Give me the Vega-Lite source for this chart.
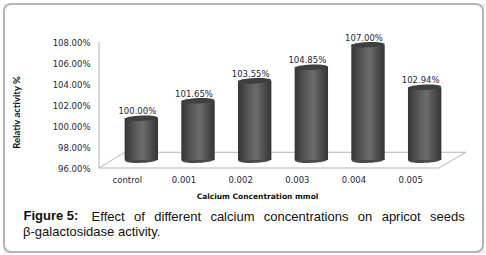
{
"$schema":"https://vega.github.io/schema/vega-lite/v6.json",
"width":479,"height":248,
"autosize":{"type":"none"},
"padding":{"left":4,"top":4,"right":3,"bottom":3},
"background":"white",
"title":{"text":["\u200b\u00a0\u00a0\u00a0\u00a0\u00a0\u00a0\u00a0\u00a0\u00a0\u00a0\u00a0\u00a0\u00a0\u00a0\u00a0\u00a0\u00a0\u00a0\u00a0Effect\u00a0\u00a0\u200a\u200aof\u00a0\u00a0\u200a\u200adifferent\u00a0\u00a0\u200a\u200acalcium\u00a0\u00a0\u200a\u200aconcentrations\u00a0\u00a0\u200a\u200aon\u00a0\u00a0\u200a\u200aapricot\u00a0\u00a0\u200a\u200aseeds","β-galactosidase activity."],"orient":"bottom","anchor":"start","frame":"group","offset":-42,"dx":19,"font":"Liberation Sans","fontSize":13,"fontWeight":"normal","color":"#111111","lineHeight":15},
"datasets":{
"bars":[
{"dose":"control","activity":1.0},
{"dose":"0.001","activity":1.0165},
{"dose":"0.002","activity":1.0355},
{"dose":"0.003","activity":1.0485},
{"dose":"0.004","activity":1.07},
{"dose":"0.005","activity":1.0294}],
"floor":[
{"fx":0,"fy":1.08},{"fx":0,"fy":0.96},{"fx":7.6,"fy":0.975},{"fx":107.9,"fy":0.975},{"fx":100,"fy":0.96},{"fx":0,"fy":0.96}],
"frame":[{"fx":-27.94,"fx2":112.94,"fy":1.11619,"fy2":0.88}]
},
"layer":[
{"layer":[
{"data":{"name":"frame"},"mark":{"type":"rect","fillOpacity":0,"stroke":"#b4b4b4","strokeWidth":2,"strokeOpacity":1,"cornerRadius":7,"clip":false},
"encoding":{"x":{"field":"fx","type":"quantitative","scale":{"domain":[0,100],"range":[95,435],"nice":false,"zero":false},
"axis":{"orient":"bottom","domain":false,"ticks":false,"labels":false,"grid":false,"title":"Figure 5:","titleFont":"Liberation Sans","titleFontSize":13,"titleFontWeight":"bold","titleColor":"#111111","titleAnchor":"start","titleAlign":"left","titleBaseline":"alphabetic","titleX":19,"titleY":-33,"offset":0}},"x2":{"field":"fx2"},
"y":{"field":"fy","type":"quantitative","scale":{"domain":[0.96,1.08],"range":[164,38],"nice":false,"zero":false},
"axis":{"orient":"left","offset":-95,"values":[0.96,0.98,1.0,1.02,1.04,1.06,1.08],"format":".2%","grid":false,"ticks":false,"domain":false,"labelPadding":9,"labelFont":"DejaVu Sans","labelFontSize":8.5,"labelColor":"#26263a","title":"Relativ activity %","titleFont":"Lato","titleFontSize":9.5,"titleFontWeight":"bold","titleColor":"#111111","titleX":-78,"titleY":108,"titleAnchor":"middle","titleAlign":"center"}},"y2":{"field":"fy2"}}},
{"data":{"name":"floor"},"mark":{"type":"line","color":"#b4b4b4","strokeWidth":1,"clip":false},
"encoding":{"x":{"field":"fx","type":"quantitative"},"y":{"field":"fy","type":"quantitative"},"order":{"value":null}}}
]},
{"data":{"name":"bars"},
"encoding":{"x":{"field":"dose","type":"nominal","sort":null,"scale":{"type":"band","range":[95,435],"paddingInner":0,"paddingOuter":0},
"axis":{"orient":"bottom","offset":-84,"domain":false,"ticks":false,"grid":false,"labelAngle":0,"labelPadding":7,"labelFont":"DejaVu Sans","labelFontSize":8.5,"labelColor":"#26263a","title":"Calcium Concentration mmol","titleFont":"DejaVu Sans","titleFontSize":7.5,"titleFontWeight":"bold","titleColor":"#111111","titleX":253,"titleY":24,"titleAlign":"center","titleAnchor":"middle"}}},
"layer":[
{"mark":{"type":"point","filled":true,"opacity":1,"xOffset":14,"yOffset":-8,"size":1115,"shape":"M -1 0.04 C -0.9 -0.16 0.8 -0.24 1 -0.04 C 0.9 0.2 -0.8 0.26 -1 0.04 Z","color":"#4a4a4a","clip":false},
"encoding":{"y":{"datum":0.96}}},
{"mark":{"type":"bar","width":33.4,"xOffset":14,"yOffset":-8,"y2Offset":-8,"clip":false,"color":{"gradient":"linear","x1":0,"x2":1,"y1":0,"y2":0,"stops":[{"offset":0,"color":"#353535"},{"offset":0.15,"color":"#454545"},{"offset":0.35,"color":"#5c5c5c"},{"offset":0.55,"color":"#6c6c6c"},{"offset":0.75,"color":"#525252"},{"offset":1,"color":"#343434"}]}},
"encoding":{"y":{"field":"activity","type":"quantitative"},"y2":{"datum":0.96}}},
{"mark":{"type":"point","filled":true,"opacity":1,"xOffset":14,"yOffset":-8,"size":1115,"shape":"M -1 0.04 C -0.9 -0.16 0.8 -0.24 1 -0.04 C 0.9 0.2 -0.8 0.26 -1 0.04 Z","color":"#3f3f3f","clip":false},
"encoding":{"y":{"field":"activity","type":"quantitative"}}},
{"mark":{"type":"text","dx":10,"dy":-15,"font":"DejaVu Sans","fontSize":8.5,"color":"#26263a","clip":false},
"encoding":{"y":{"field":"activity","type":"quantitative"},"text":{"field":"activity","type":"quantitative","format":".2%"}}}
]}
],
"resolve":{"scale":{"x":"independent"},"axis":{"x":"independent"}}
}
